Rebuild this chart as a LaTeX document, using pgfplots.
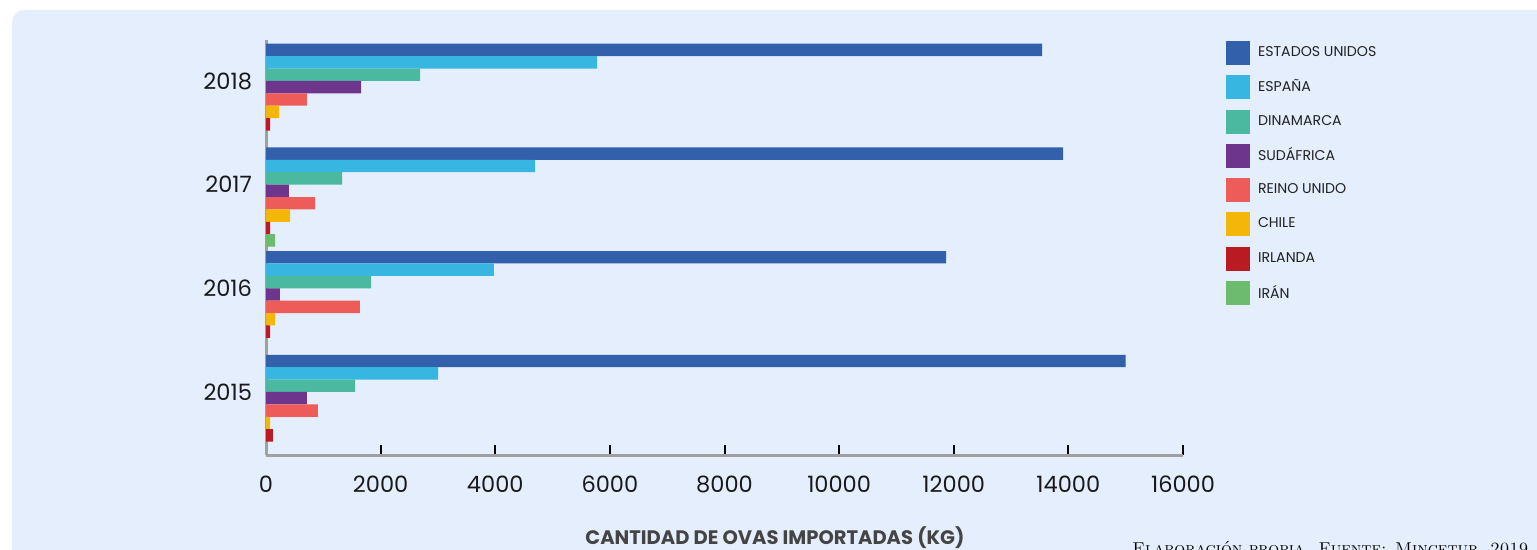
\documentclass[border=0pt]{standalone}
\usepackage{fontspec}
\usepackage{pgfplots}
\pgfplotsset{compat=1.18}
\newfontfamily\pop{Poppins}
\definecolor{bg}{HTML}{E4EEFC}
\definecolor{cEU}{HTML}{3360AA}
\definecolor{cES}{HTML}{38B6E2}
\definecolor{cDK}{HTML}{4AB9A0}
\definecolor{cSA}{HTML}{6D358B}
\definecolor{cRU}{HTML}{EE5C5A}
\definecolor{cCL}{HTML}{F4B709}
\definecolor{cIE}{HTML}{BA1A22}
\definecolor{cIR}{HTML}{6CBB6E}
\definecolor{axgray}{HTML}{A0A0A0}
\definecolor{labgray}{HTML}{444444}
\definecolor{legtext}{HTML}{222222}
\begin{document}
\begin{tikzpicture}
\path[use as bounding box] (0,0) rectangle (768.5bp,275bp);
\begin{scope}
\clip (0,0) rectangle (768.5bp,275bp);
\fill[bg, rounded corners=6bp] (6bp,-20bp) rectangle (800bp,270bp);
\end{scope}
\begin{axis}[
  at={(133bp,47.5bp)}, anchor=south west,
  scale only axis, width=458.5bp, height=207.5bp,
  xbar, bar width=6.2bp,
  xmin=0, xmax=16000, ymin=2014.392, ymax=2018.395,
  axis lines=left,
  axis line style={draw=axgray, line width=1.5bp, -},
  xtick={0,2000,...,16000},
  ytick={2015,2016,2017,2018}, yticklabels={2015,2016,2017,2018},
  scaled x ticks=false,
  xticklabel style={/pgf/number format/1000 sep={}, yshift=-7bp},
  yticklabel style={xshift=-3.5bp},
  tick align=inside, major tick length=5bp,
  x tick style={black, line width=1bp},
  y tick style={draw=none},
  tick label style={font=\pop\fontsize{11.3}{13}\selectfont, text=black!90},
  /pgf/number format/assume math mode=true,
  xlabel={CANTIDAD DE OVAS IMPORTADAS (KG)},
  xlabel style={at={(axis description cs:0.555,-0.198)}, anchor=center, font=\pop\bfseries\fontsize{9.8}{11}\selectfont, text=labgray},
  legend style={at={(axis description cs:1.0469,0.9976)}, anchor=north west, draw=none, fill=none, inner sep=0pt, outer sep=0pt, row sep=5.15bp, column sep=4bp, font=\pop\fontsize{7.1}{8}\selectfont, text=legtext, nodes={inner sep=0pt, anchor=west}},
  legend cell align=left,
  legend image code/.code={\fill[#1, draw=none] (0bp,-6bp) rectangle (12bp,6bp);},
  clip=false,
]
\addplot[fill=cEU, draw=none, bar shift=15.5bp] coordinates {(13540,2018) (13907,2017) (11865,2016) (15000,2015)};
\addplot[fill=cES, draw=none, bar shift=9.3bp] coordinates {(5776,2018) (4694,2017) (3978,2016) (3001,2015)};
\addplot[fill=cDK, draw=none, bar shift=3.1bp] coordinates {(2687,2018) (1326,2017) (1832,2016) (1553,2015)};
\addplot[fill=cSA, draw=none, bar shift=-3.1bp] coordinates {(1658,2018) (401,2017) (244,2016) (715,2015)};
\addplot[fill=cRU, draw=none, bar shift=-9.3bp] coordinates {(715,2018) (855,2017) (1640,2016) (907,2015)};
\addplot[fill=cCL, draw=none, bar shift=-15.5bp] coordinates {(227,2018) (419,2017) (157,2016) (70,2015)};
\addplot[fill=cIE, draw=none, bar shift=-21.7bp] coordinates {(70,2018) (70,2017) (70,2016) (122,2015)};
\addplot[fill=cIR, draw=none, bar shift=-27.9bp] coordinates {(0,2018) (157,2017) (0,2016) (0,2015)};
\legend{ESTADOS UNIDOS, ESPAÑA, DINAMARCA, SUDÁFRICA, REINO UNIDO, CHILE, IRLANDA, IRÁN}
\end{axis}
\begin{scope}
\clip (0,0) rectangle (768.5bp,275bp);
\node[anchor=north west, inner sep=0pt, font=\fontsize{8.6}{10}\selectfont\scshape] at (566bp,4.8bp) {Elaboración propia. Fuente: Mincetur, 2019};
\end{scope}
\end{tikzpicture}
\end{document}
